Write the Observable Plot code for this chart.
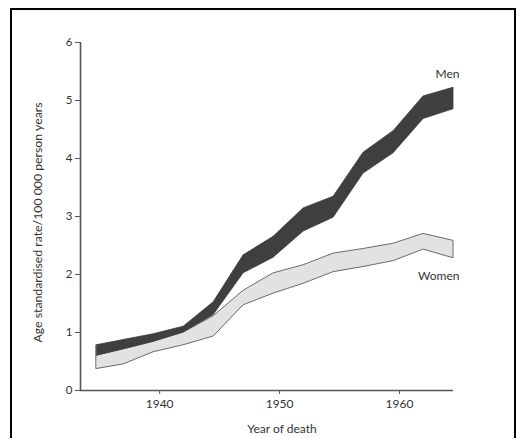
<!DOCTYPE html>
<html>
<head>
<meta charset="utf-8">
<script src="https://cdn.jsdelivr.net/npm/d3@7"></script>
<script src="https://cdn.jsdelivr.net/npm/@observablehq/plot@0.6"></script>
<style>
  html, body { margin: 0; padding: 0; background: #fff; }
  #wrap { position: relative; width: 530px; height: 438px; overflow: hidden; }
  #border { position: absolute; left: 10px; top: 8px; width: 506px; height: 460px; border: 2px solid #000; box-sizing: border-box; pointer-events: none; }
  svg { font-family: Lato, "Open Sans", sans-serif; }
</style>
</head>
<body>
<div id="wrap"><div id="border"></div></div>
<script>
// Year of death (period midpoints)
const years     = [1934.75, 1937, 1939.5, 1942, 1944.5, 1947, 1949.5, 1952, 1954.5, 1957, 1959.5, 1962, 1964.5];
// Age standardised rate /100 000 person years — band limits
const menHigh   = [0.78, 0.87, 0.97, 1.10, 1.52, 2.33, 2.65, 3.14, 3.34, 4.10, 4.47, 5.07, 5.22];
const menLow    = [0.60, 0.71, 0.84, 1.00, 1.30, 2.02, 2.29, 2.74, 2.98, 3.74, 4.09, 4.68, 4.85];
const womenHigh = [0.60, 0.71, 0.84, 1.00, 1.28, 1.72, 2.02, 2.16, 2.36, 2.44, 2.53, 2.70, 2.58];
const womenLow  = [0.37, 0.45, 0.66, 0.78, 0.93, 1.47, 1.67, 1.84, 2.04, 2.13, 2.23, 2.43, 2.28];
const xTicks = [1940, 1950, 1960];
const yTicks = [0, 1, 2, 3, 4, 5, 6];
const seriesLabels = [
  {name: "Men",   year: 1965, value: 5.45},
  {name: "Women", year: 1965, value: 1.97}
];
const xTitle = "Year of death";
const yTitle = "Age standardised rate/100 000 person years";

const data = years.map((y, i) => ({year: y, mh: menHigh[i], ml: menLow[i], wh: womenHigh[i], wl: womenLow[i]}));
const xDomain = [1933.4, 1964.5];

const chart = Plot.plot({
  width: 530,
  height: 438,
  marginLeft: 80,
  marginRight: 77,
  marginTop: 42,
  marginBottom: 48,
  style: {fontFamily: "Lato, 'Open Sans', sans-serif", background: "transparent"},
  x: {domain: xDomain},
  y: {domain: [0, 6]},
  marks: [
    Plot.areaY(data, {x: "year", y1: "wl", y2: "wh", fill: "#e2e2e2", stroke: "#6a6a6a", strokeWidth: 1}),
    Plot.areaY(data, {x: "year", y1: "ml", y2: "mh", fill: "#3f3f3f", stroke: "#3a3a3a", strokeWidth: 0.8}),
    Plot.ruleY([0], {x1: xDomain[0], x2: xDomain[1], stroke: "#555", strokeWidth: 1.6}),
    Plot.ruleX([xDomain[0]], {y1: 0, y2: 6, stroke: "#555", strokeWidth: 1.6}),
    Plot.axisX({ticks: xTicks, tickFormat: d => String(d), tickSize: 4, tickPadding: 5, fontSize: 12, color: "#333", stroke: "#555", label: null}),
    Plot.axisY({ticks: yTicks, tickFormat: d => String(d), tickSize: 5, tickPadding: 3, fontSize: 11.5, color: "#333", stroke: "#555", label: null}),
    Plot.text([yTitle], {frameAnchor: "left", textAnchor: "middle", rotate: -90, dx: -42, dy: 6, fontSize: 12.3, fill: "#333", text: d => d}),
    Plot.text([xTitle], {x: [1950.2], frameAnchor: "bottom", dy: 42, fontSize: 12, fill: "#333", text: d => d}),
    Plot.text(seriesLabels, {x: "year", y: "value", text: "name", textAnchor: "end", fontSize: 12, fill: "#333"})
  ]
});
document.getElementById("wrap").prepend(chart);
</script>
</body>
</html>
